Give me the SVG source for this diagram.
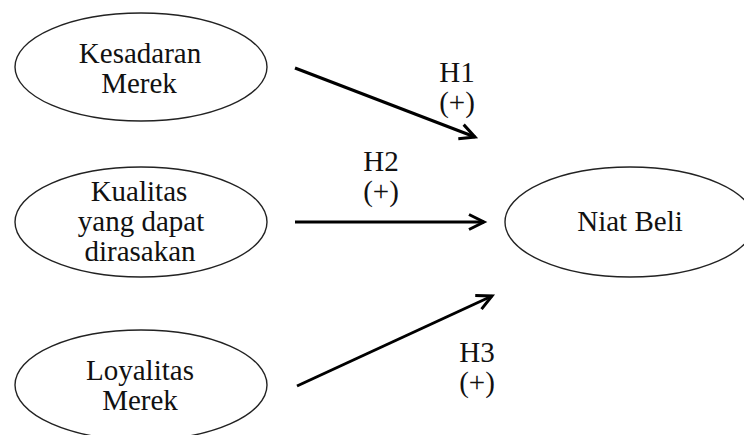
<svg xmlns="http://www.w3.org/2000/svg" width="744" height="435" viewBox="0 0 744 435">
<style>
.node ellipse{fill:#fff;stroke:#222;stroke-width:1.4}
text{font-family:"Liberation Serif","Times New Roman",serif;font-size:29px;fill:#111;text-anchor:middle}
.conn line{stroke:#000;stroke-width:3;fill:none;marker-end:url(#arr)}
</style>
<defs>
<marker id="arr" markerUnits="userSpaceOnUse" markerWidth="30" markerHeight="30" refX="0" refY="0" viewBox="-20 -15 30 30" orient="auto" overflow="visible">
<path d="M-15,-7.5 L0,0 L-15,7.5" fill="none" stroke="#000" stroke-width="3" stroke-linejoin="miter"/>
</marker>
</defs>
<rect width="744" height="435" fill="#fff"/>
<g id="kesadaran" class="node">
<ellipse cx="141" cy="67" rx="126" ry="54"/>
<text x="140" y="63">Kesadaran</text>
<text x="139" y="93">Merek</text>
</g>
<g id="kualitas" class="node">
<ellipse cx="141" cy="222" rx="126" ry="55"/>
<text x="139" y="201">Kualitas</text>
<text x="141" y="231">yang dapat</text>
<text x="140" y="261">dirasakan</text>
</g>
<g id="loyalitas" class="node">
<ellipse cx="141" cy="385" rx="126" ry="55"/>
<text x="140" y="380">Loyalitas</text>
<text x="140" y="410">Merek</text>
</g>
<g id="niat" class="node">
<ellipse cx="630" cy="222" rx="125" ry="55"/>
<text x="630" y="231">Niat Beli</text>
</g>
<g id="connectors" class="conn">
<line x1="295" y1="68" x2="475" y2="137"/>
<line x1="295" y1="222" x2="484" y2="222"/>
<line x1="297" y1="386" x2="492" y2="296"/>
</g>
<g id="labels">
<text x="457" y="82">H1</text>
<text x="457" y="112">(+)</text>
<text x="381" y="171">H2</text>
<text x="381" y="201">(+)</text>
<text x="477" y="362">H3</text>
<text x="477" y="392">(+)</text>
</g>
</svg>
